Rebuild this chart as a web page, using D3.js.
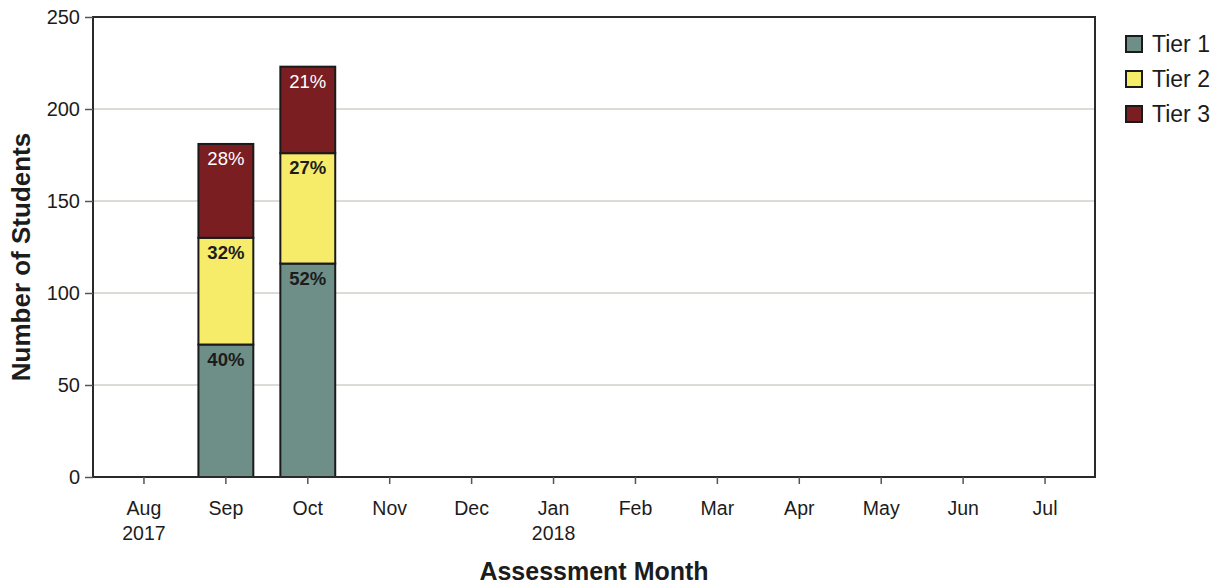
<!DOCTYPE html>
<html>
<head>
<meta charset="utf-8">
<script src="https://cdn.jsdelivr.net/npm/d3@7"></script>
<style>
  body { margin: 0; background: #fff; }
  text { font-family: "Liberation Sans", Arial, sans-serif; }
</style>
</head>
<body>
<svg></svg>
<script>
let months = ["Aug", "Sep", "Oct", "Nov", "Dec", "Jan", "Feb", "Mar", "Apr", "May", "Jun", "Jul"];
let years = { "Aug": "2017", "Jan": "2018" };
let tiers = ["Tier 1", "Tier 2", "Tier 3"];
let tier1 = [0, 72, 116, 0, 0, 0, 0, 0, 0, 0, 0, 0];
let tier2 = [0, 58, 60, 0, 0, 0, 0, 0, 0, 0, 0, 0];
let tier3 = [0, 51, 47, 0, 0, 0, 0, 0, 0, 0, 0, 0];
let pctLabels = [
    [null, "40%", "52%", null, null, null, null, null, null, null, null, null],
    [null, "32%", "27%", null, null, null, null, null, null, null, null, null],
    [null, "28%", "21%", null, null, null, null, null, null, null, null, null]
];
let yTicks = [0, 50, 100, 150, 200, 250];
let colors = ["#6e8f88", "#f7ec6a", "#7b1e22"];

drawChart();

function drawChart() {
    let svgWidth = 1218, svgHeight = 587;
    let plot = { left: 93, right: 1095, top: 17, bottom: 477 };

    let svg = d3.select("svg")
        .attr("width", svgWidth)
        .attr("height", svgHeight);

    let x = d3.scaleBand()
        .domain(months)
        .range([103, 1086])
        .paddingInner(0.33)
        .paddingOuter(0.165);

    let y = d3.scaleLinear()
        .domain([0, 250])
        .range([plot.bottom, plot.top]);

    // gridlines
    svg.append("g")
        .selectAll("line")
        .data(yTicks.filter(d => d > 0 && d < 250))
        .enter().append("line")
        .attr("x1", plot.left)
        .attr("x2", plot.right)
        .attr("y1", d => y(d))
        .attr("y2", d => y(d))
        .attr("stroke", "#d0d0c8")
        .attr("stroke-width", 1.5);

    // stacked bars
    let rows = months.map(function (m, i) {
        return { month: m, "Tier 1": tier1[i], "Tier 2": tier2[i], "Tier 3": tier3[i], idx: i };
    });
    let stack = d3.stack().keys(tiers)(rows);

    stack.forEach(function (layer, k) {
        let g = svg.append("g");
        g.selectAll("rect")
            .data(layer.filter(d => d[1] - d[0] > 0))
            .enter().append("rect")
            .attr("x", d => x(d.data.month))
            .attr("width", x.bandwidth())
            .attr("y", d => y(d[1]))
            .attr("height", d => y(d[0]) - y(d[1]))
            .attr("fill", colors[k])
            .attr("stroke", "#1a1a1a")
            .attr("stroke-width", 2);

        g.selectAll("text")
            .data(layer.filter(d => pctLabels[k][d.data.idx]))
            .enter().append("text")
            .attr("x", d => x(d.data.month) + x.bandwidth() / 2)
            .attr("y", d => y(d[1]) + 21)
            .attr("text-anchor", "middle")
            .attr("font-size", 18.5)
            .attr("font-weight", k === 2 ? "normal" : "bold")
            .attr("fill", k === 2 ? "#ffffff" : "#1c1c1c")
            .text(d => pctLabels[k][d.data.idx]);
    });

    // plot border
    svg.append("rect")
        .attr("x", plot.left)
        .attr("y", plot.top)
        .attr("width", plot.right - plot.left)
        .attr("height", plot.bottom - plot.top)
        .attr("fill", "none")
        .attr("stroke", "#2a2a2a")
        .attr("stroke-width", 2);

    // y axis
    let yAxis = svg.append("g")
        .attr("transform", "translate(" + plot.left + ",0)")
        .call(d3.axisLeft(y).tickValues(yTicks).tickSize(8).tickPadding(5));
    yAxis.select(".domain").remove();
    yAxis.selectAll("line").attr("stroke", "#555").attr("stroke-width", 1.5);
    yAxis.selectAll("text").attr("font-size", 20).attr("fill", "#1c1c1c");

    // x axis
    let xAxis = svg.append("g")
        .attr("transform", "translate(0," + plot.bottom + ")")
        .call(d3.axisBottom(x).tickSize(7).tickPadding(17));
    xAxis.select(".domain").remove();
    xAxis.selectAll("line").attr("stroke", "#555").attr("stroke-width", 1.5);
    xAxis.selectAll("text")
        .attr("font-size", 19.5)
        .attr("fill", "#1c1c1c")
        .each(function (d) {
            if (years[d]) {
                d3.select(this).append("tspan")
                    .attr("x", 0)
                    .attr("dy", "1.3em")
                    .text(years[d]);
            }
        });

    // axis titles
    svg.append("text")
        .attr("transform", "translate(30," + ((plot.top + plot.bottom) / 2 + 10) + ") rotate(-90)")
        .attr("text-anchor", "middle")
        .attr("font-size", 26)
        .attr("font-weight", "bold")
        .attr("fill", "#1c1c1c")
        .text("Number of Students");

    svg.append("text")
        .attr("x", (plot.left + plot.right) / 2)
        .attr("y", 580)
        .attr("text-anchor", "middle")
        .attr("font-size", 25)
        .attr("font-weight", "bold")
        .attr("fill", "#1c1c1c")
        .text("Assessment Month");

    // legend
    let legend = svg.append("g")
        .attr("transform", "translate(1126,36)");
    let item = legend.selectAll("g")
        .data(tiers)
        .enter().append("g")
        .attr("transform", (d, i) => "translate(0," + (i * 35) + ")");
    item.append("rect")
        .attr("width", 16)
        .attr("height", 16)
        .attr("fill", (d, i) => colors[i])
        .attr("stroke", "#1a1a1a")
        .attr("stroke-width", 2);
    item.append("text")
        .attr("x", 26)
        .attr("y", 16)
        .attr("font-size", 23)
        .attr("fill", "#1c1c1c")
        .text(d => d);
}
</script>
</body>
</html>
